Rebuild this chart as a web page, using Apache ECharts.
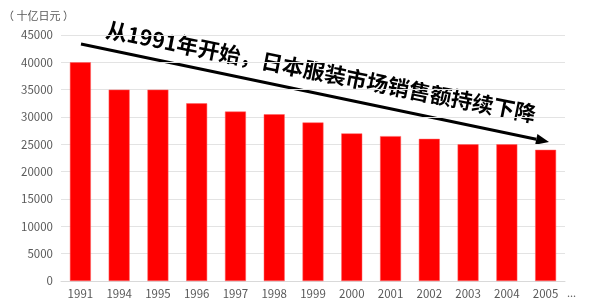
<!DOCTYPE html>
<html><head><meta charset="utf-8">
<script src="https://cdn.jsdelivr.net/npm/echarts@6/dist/echarts.min.js"></script>
<style>html,body{margin:0;padding:0;background:#fff}#c{width:600px;height:304px}</style>
</head><body><div id="c"></div>
<script>
var categories = ['1991','1994','1995','1996','1997','1998','1999','2000','2001','2002','2003','2004','2005'];
var sales = [40000,35000,35000,32500,31000,30500,29000,27000,26500,26000,25000,25000,24000];
var yTicks = {min:0, max:45000, interval:5000};
var unitLabel = '（ 十亿日元 ）';
var annotation = '从1991年开始，日本服装市场销售额持续下降';

var chart = echarts.init(document.getElementById('c'), null, {renderer:'canvas'});
var font = '"Noto Sans CJK SC","Noto Sans",sans-serif';
var x0 = 81, y0 = 44, x1 = 549, y1 = 142;
var ang = Math.atan2(y1 - y0, x1 - x0);
var head = 13, hw = 5.5;
var bx = x1 - head*Math.cos(ang), by = y1 - head*Math.sin(ang);
chart.setOption({
  animation:false,
  backgroundColor:'#fff',
  grid:{left:61, right:35, top:35, bottom:23, containLabel:false},
  xAxis:{type:'category', data:categories,
    axisLine:{lineStyle:{color:'#d9d9d9'}}, axisTick:{show:false},
    axisLabel:{color:'#595959', fontSize:11.5, margin:7, fontFamily:font, interval:0}},
  yAxis:{type:'value', min:yTicks.min, max:yTicks.max, interval:yTicks.interval,
    axisLine:{show:false}, axisTick:{show:false},
    splitLine:{lineStyle:{color:'#e3e3e3'}},
    axisLabel:{color:'#595959', fontSize:11.5, margin:8, fontFamily:font, formatter:function(v){return String(v);}}},
  series:[{type:'bar', data:sales, barWidth:'54%',
    itemStyle:{color:'#ff0000', borderColor:'#ff6060', borderWidth:0.5}}],
  graphic:[
    {type:'text', left:3, top:10, style:{text:unitLabel, fill:'#595959', font:'11px '+font}},
    {type:'text', x:567, y:287, style:{text:'...', fill:'#595959', font:'11px '+font}},
    {type:'line', shape:{x1:x0, y1:y0, x2:bx, y2:by}, style:{stroke:'#000', lineWidth:3}},
    {type:'polygon', shape:{points:[[x1,y1],[bx - hw*Math.sin(ang), by + hw*Math.cos(ang)],[bx + hw*Math.sin(ang), by - hw*Math.cos(ang)]]}, style:{fill:'#000'}},
    {type:'text', x:321, y:72, rotation:-0.195, style:{text:annotation, fill:'#000', font:'bold 21.5px '+font, align:'center', verticalAlign:'middle'}}
  ]
});
</script></body></html>
